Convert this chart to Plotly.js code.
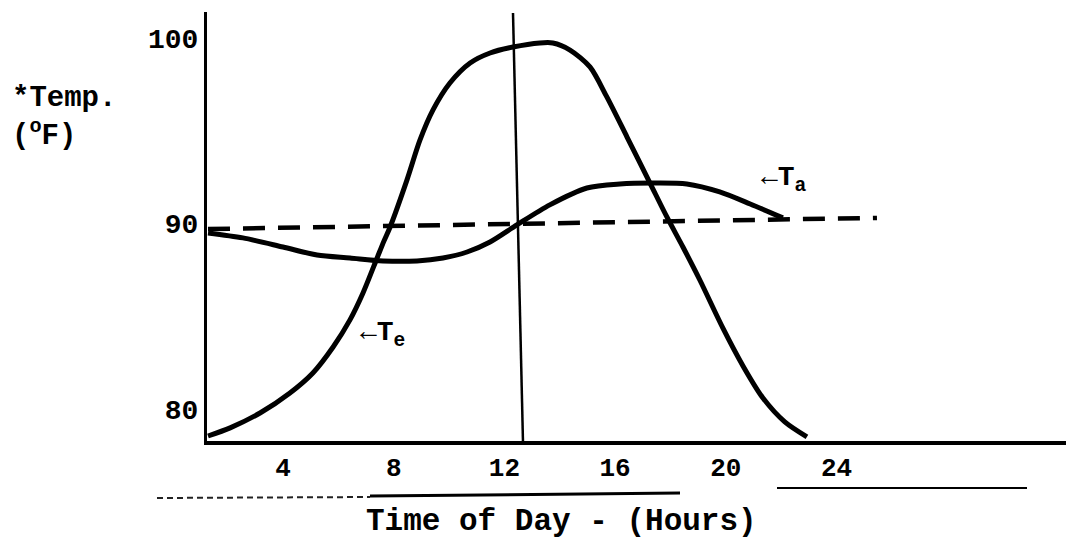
<!DOCTYPE html>
<html>
<head>
<meta charset="utf-8">
<script src="https://cdn.plot.ly/plotly-3.0.1.min.js"></script>
<style>html,body{margin:0;padding:0;background:#fff;}#chart{width:1066px;height:541px;}</style>
</head>
<body>
<div id="chart"></div>
<script>
// Te curve (hours, °F)
const teHours = [1.29, 2.09, 3.17, 4.25, 5.08, 5.81, 6.42, 6.89, 7.40, 7.65, 7.87, 8.48, 8.95, 9.42, 10.03, 10.76, 11.48, 12.31, 13.28, 13.75, 14.37, 15.09, 15.70, 16.43, 17.26, 17.87, 18.45, 19.06, 19.89, 20.62, 21.34, 22.13, 22.93];
const teTemp  = [78.54, 78.98, 79.78, 80.86, 81.94, 83.34, 84.80, 86.25, 88.14, 89.06, 89.81, 92.35, 94.50, 96.12, 97.57, 98.65, 99.19, 99.51, 99.73, 99.73, 99.35, 98.44, 96.82, 94.66, 92.18, 90.35, 88.73, 86.95, 84.37, 82.32, 80.59, 79.30, 78.49];
// Ta curve
const taHours = [1.29, 2.55, 4.00, 5.23, 6.42, 7.61, 8.84, 9.78, 10.65, 11.48, 12.45, 13.64, 14.98, 16.17, 17.37, 18.59, 19.78, 20.88, 22.06];
const taTemp  = [89.49, 89.22, 88.73, 88.30, 88.14, 87.98, 87.98, 88.14, 88.46, 89.00, 89.92, 91.00, 91.91, 92.13, 92.18, 92.13, 91.70, 91.05, 90.30];
// dashed 90 °F reference line
const refHours = [1.29, 25.46];
const refTemp  = [89.7, 90.3];
// vertical line at noon
const noonHours = [12.31, 12.67];
const noonTemp  = [101.35, 78.27];
// tick labels
const xTickVals = [4, 8, 12, 16, 20, 24];
const xTickText = ["4", "8", "12", "16", "20", "24"];
const yTickVals = [80, 90, 100];
const yTickText = ["80", "90", "100"];

const mono = "Liberation Mono, Courier New, monospace";

const traces = [
  {x: refHours, y: refTemp, mode: "lines", line: {color: "#000", width: 4.5, dash: "22px,13px"}, hoverinfo: "skip", showlegend: false},
  {x: noonHours, y: noonTemp, mode: "lines", line: {color: "#000", width: 2.5}, hoverinfo: "skip", showlegend: false},
  {x: taHours, y: taTemp, mode: "lines", line: {color: "#000", width: 5, shape: "spline", smoothing: 0.8}, name: "Ta", showlegend: false},
  {x: teHours, y: teTemp, mode: "lines", line: {color: "#000", width: 5, shape: "spline", smoothing: 0.8}, name: "Te", showlegend: false}
];

function px2paperX(px){ return (px - 207) / 859; }
function px2paperY(py){ return (441 - py) / 429; }

const layout = {
  width: 1066, height: 541,
  margin: {l: 207, r: 0, t: 12, b: 100, pad: 0},
  paper_bgcolor: "#fff", plot_bgcolor: "#fff",
  showlegend: false,
  xaxis: {
    range: [1.254, 32.29], showgrid: false, zeroline: false,
    showline: true, linecolor: "#000", linewidth: 4,
    ticks: "", tickvals: xTickVals, ticktext: xTickText,
    tickfont: {family: mono, size: 26, color: "#000", weight: "bold"}
  },
  yaxis: {
    range: [78.27, 101.40], showgrid: false, zeroline: false,
    showline: true, linecolor: "#000", linewidth: 3,
    ticks: "", tickvals: yTickVals, ticktext: yTickText,
    tickfont: {family: mono, size: 28, color: "#000", weight: "bold"}
  },
  annotations: [
    {xref: "paper", yref: "paper", x: px2paperX(10), y: px2paperY(118), xanchor: "left", yanchor: "middle", align: "left",
     text: "*Temp.<br>(<sup>o</sup>F)", showarrow: false, font: {family: mono, size: 29, color: "#000", weight: "bold"}},
    {xref: "x", yref: "y", x: 7.61, y: 83.99, xanchor: "center", yanchor: "middle",
     text: "←T<sub>e</sub>", showarrow: false, font: {family: mono, size: 28, color: "#000", weight: "bold"}},
    {xref: "x", yref: "y", x: 22.10, y: 92.35, xanchor: "center", yanchor: "middle",
     text: "←T<sub>a</sub>", showarrow: false, font: {family: mono, size: 28, color: "#000", weight: "bold"}},
    {xref: "paper", yref: "paper", x: px2paperX(561), y: px2paperY(521), xanchor: "center", yanchor: "middle",
     text: "Time of Day - (Hours)", showarrow: false, font: {family: mono, size: 31, color: "#000", weight: "bold"}}
  ],
  shapes: [
    {type: "line", xref: "paper", yref: "paper", x0: px2paperX(157), x1: px2paperX(370), y0: px2paperY(498), y1: px2paperY(497), line: {color: "#222", width: 2, dash: "6px,4px"}},
    {type: "line", xref: "paper", yref: "paper", x0: px2paperX(370), x1: px2paperX(680), y0: px2paperY(496), y1: px2paperY(493), line: {color: "#000", width: 3}},
    {type: "line", xref: "paper", yref: "paper", x0: px2paperX(777), x1: px2paperX(1027), y0: px2paperY(488), y1: px2paperY(488), line: {color: "#000", width: 2}}
  ]
};

Plotly.newPlot("chart", traces, layout, {displayModeBar: false, staticPlot: true});
</script>
</body>
</html>
